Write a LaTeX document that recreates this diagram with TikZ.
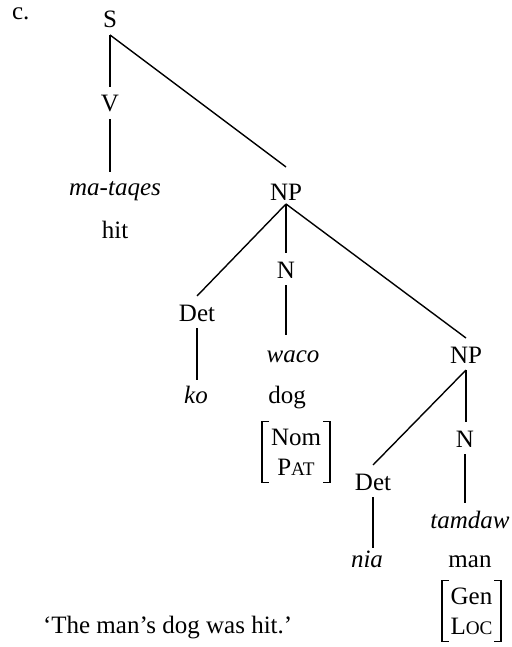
\documentclass[tikz,border=0pt]{standalone}
\usepackage{fontspec}
\setmainfont{Liberation Serif}
\newcommand{\fakesc}[1]{{\fontsize{9.6}{9.6}\selectfont #1}}
\begin{document}
\begin{tikzpicture}[x=0.5pt,y=-0.5pt,
  every node/.style={inner sep=0pt,outer sep=0pt,font=\fontsize{12.5}{15}\selectfont},
  cat/.style={anchor=base,text height=12.5pt,text depth=3.5pt},
  word/.style={anchor=base,text height=11.5pt,text depth=0pt,font=\fontsize{12.5}{15}\selectfont\itshape},
  gloss/.style={anchor=base},
  feat/.style={align=center,minimum width=#1,minimum height=30.5pt,font=\fontsize{12.5}{15}\selectfont},
  branch/.style={line width=0.7pt},
  brack/.style={line width=0.7pt}]
\useasboundingbox (0,0) rectangle (511,647);

\node[anchor=base west] (lbl) at (12,20) {c.};

\node[cat] (S) at (110,28) {S};
\node[cat] (V) at (110,112) {V};
\node[word] (mt) at (115,195) {ma-taqes};
\node[gloss] (hit) at (115,238) {hit};

\node[cat,text height=16.5pt,text depth=2pt] (NP1) at (286,200) {NP};
\node[cat] (Det1) at (197,321) {Det};
\node[cat] (N1) at (286,278) {N};
\node[word,text height=13.5pt] (waco) at (293,362) {waco};
\node[word] (ko) at (196,403) {ko};
\node[gloss] (dog) at (287,403) {dog};
\node[feat=34pt] (nompat) at (296,452) {Nom\\P\fakesc{AT}};

\node[cat] (NP2) at (466,363) {NP};
\node[cat] (Det2) at (373,490) {Det};
\node[cat] (N2) at (465,447) {N};
\node[word,text height=9.5pt] (nia) at (367,567) {nia};
\node[word,text height=12.5pt] (tamdaw) at (470,528) {tamdaw};
\node[gloss] (man) at (470,567) {man};
\node[feat=29.5pt] (genloc) at (471.5,611) {Gen\\L\fakesc{OC}};

\node[anchor=base west] (trans) at (43,633) {‘The man’s dog was hit.’};

\draw[branch] (S.south) -- (V.north);
\draw[branch] (S.south) -- (NP1.north);
\draw[branch] (V.south) -- (V.south |- mt.north);
\draw[branch] (NP1.south) -- (Det1.north);
\draw[branch] (NP1.south) -- (N1.north);
\draw[branch] (NP1.south) -- (NP2.north);
\draw[branch] (N1.south) -- (N1.south |- waco.north);
\draw[branch] (Det1.south) -- (Det1.south |- ko.north);
\draw[branch] (NP2.south) -- (Det2.north);
\draw[branch] (NP2.south) -- (NP2.south |- N2.north);
\draw[branch] (Det2.south) -- (Det2.south |- nia.north);
\draw[branch] (N2.south) -- (N2.south |- tamdaw.north);

\foreach \b in {nompat,genloc}{
  \draw[brack] ([xshift=3.5pt]\b.north west) -- (\b.north west) -- (\b.south west) -- ([xshift=3.5pt]\b.south west);
  \draw[brack] ([xshift=-3.5pt]\b.north east) -- (\b.north east) -- (\b.south east) -- ([xshift=-3.5pt]\b.south east);
}
\end{tikzpicture}
\end{document}
